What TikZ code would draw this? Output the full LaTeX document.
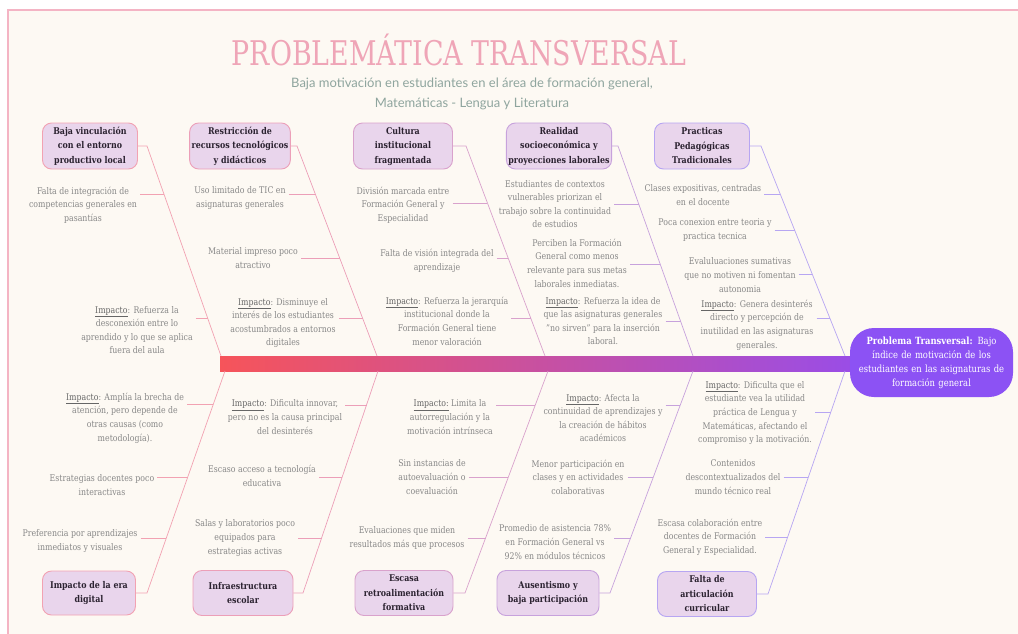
\documentclass[tikz,border=0pt]{standalone}
\usepackage{fontspec}
\setmainfont{DejaVu Serif}[FakeStretch=0.85]
\newfontfamily\titlefont{DejaVu Serif}[FakeStretch=0.79]
\newfontfamily\subfont{Lato}
\usetikzlibrary{calc}
\definecolor{cream}{HTML}{FDF9F3}
\definecolor{framepink}{HTML}{F4B4C4}
\definecolor{titlepink}{HTML}{EFA5B7}
\definecolor{subgray}{HTML}{8FA59E}
\definecolor{catfill}{HTML}{E9D5EC}
\definecolor{cattext}{HTML}{2B2230}
\definecolor{leafgray}{HTML}{878787}
\definecolor{impgray}{HTML}{666666}
\definecolor{c1}{HTML}{F2A2B2}
\definecolor{c2}{HTML}{EC9FB8}
\definecolor{c3}{HTML}{D9A2CC}
\definecolor{c4}{HTML}{C7A2DC}
\definecolor{c5}{HTML}{B7A6F2}
\definecolor{spineL}{HTML}{F6545A}
\definecolor{spineR}{HTML}{9A4DE6}
\definecolor{headfill}{HTML}{8C52F4}
\newcommand\leaffont{\fontsize{9.2}{13.6}\selectfont}
\newcommand\catfont{\fontsize{9.3}{14.5}\selectfont\bfseries}
\newcommand\headfont{\fontsize{9.9}{14}\selectfont}
\newcommand\impk{\textcolor{impgray}{\underline{Impacto}}}
\begin{document}
\begin{tikzpicture}[x=1pt,y=-1pt,
  leaf/.style={font=\leaffont, text=leafgray, align=center, inner xsep=3pt, inner ysep=1pt},
  catbox/.style={draw=#1, fill=catfill, rounded corners=9pt, line width=0.9pt, font=\catfont, text=cattext, align=center, inner sep=2pt, minimum height=46pt},
  bone/.style={draw=#1, line width=0.7pt},
  twig/.style={draw=#1, line width=0.7pt}]
\useasboundingbox (0,0) rectangle (1018,633);
\fill[white] (0,0) rectangle (1018,633);
\filldraw[fill=cream, draw=framepink, line width=1.6pt] (8,10) rectangle (1040,660);

% title
\node[font=\titlefont\fontsize{34}{34}\selectfont, text=titlepink, inner sep=0] (title) at (459,50) {PROBLEMÁTICA TRANSVERSAL};
\node[font=\subfont\fontsize{13}{20}\selectfont, text=subgray, align=center, inner sep=0] (sub) at (472,94) {Baja motivación en estudiantes en el área de formación general,\\Matemáticas - Lengua y Literatura};

% spine and head
\node[minimum width=632pt, minimum height=15pt, inner sep=0, left color=spineL, right color=spineR, draw=none] (spine) at (536,363.5) {};
\node[fill=headfill, rounded corners=24pt, minimum width=163pt, minimum height=69pt, text width=158pt, align=center, text=white, font=\headfont, inner sep=2pt] (head) at (931.5,362.5) {\textbf{Problema Transversal:} Bajo\\índice de motivación de los\\estudiantes en las asignaturas de\\formación general};

% ---------- top categories ----------
\node[catbox=c1, minimum width=95pt] (T1) at (90,146) {Baja vinculación\\con el entorno\\productivo local};
\node[catbox=c2, minimum width=96pt] (T2) at (240,146) {Restricción de\\recursos tecnológicos\\y didácticos};
\node[catbox=c3, minimum width=99pt] (T3) at (403,146) {Cultura\\institucional\\fragmentada};
\node[catbox=c4, minimum width=98pt] (T4) at (559,146) {Realidad\\socioeconómica y\\proyecciones laborales};
\node[catbox=c5, minimum width=95pt] (T5) at (702,146) {Practicas\\Pedagógicas\\Tradicionales};

\coordinate (e1) at (147,146); \coordinate (s1) at (221,356);
\coordinate (e2) at (297,146); \coordinate (s2) at (377,356);
\coordinate (e3) at (466,146); \coordinate (s3) at (545,356);
\coordinate (e4) at (618,146); \coordinate (s4) at (693,356);
\coordinate (e5) at (761,146); \coordinate (s5) at (845,356);
\draw[bone=c1] (T1.east) -- (e1) -- (s1);
\draw[bone=c2] (T2.east) -- (e2) -- (s2);
\draw[bone=c3] (T3.east) -- (e3) -- (s3);
\draw[bone=c4] (T4.east) -- (e4) -- (s4);
\draw[bone=c5] (T5.east) -- (e5) -- (s5);

% column 1 top
\node[leaf] (t1a) at (83,205) {Falta de integración de\\competencias generales en\\pasantías};
\node[leaf] (t1b) at (137,330) {\impk: Refuerza la\\desconexión entre lo\\aprendido y lo que se aplica\\fuera del aula};
\coordinate (k1a) at ($(e1)!0.2286!(s1)$);
\coordinate (k1b) at ($(e1)!0.819!(s1)$);
\draw[twig=c1] (t1a.east |- k1a) -- (k1a);
\draw[twig=c1] (t1b.east |- k1b) -- (k1b);

% column 2 top
\node[leaf] (t2a) at (240,198) {Uso limitado de TIC en\\asignaturas generales};
\node[leaf] (t2b) at (253,258) {Material impreso poco\\atractivo};
\node[leaf] (t2c) at (283,323) {\impk: Disminuye el\\interés de los estudiantes\\acostumbrados a entornos\\digitales};
\coordinate (k2a) at ($(e2)!0.2286!(s2)$);
\coordinate (k2b) at ($(e2)!0.5333!(s2)$);
\coordinate (k2c) at ($(e2)!0.819!(s2)$);
\draw[twig=c2] (t2a.east |- k2a) -- (k2a);
\draw[twig=c2] (t2b.east |- k2b) -- (k2b);
\draw[twig=c2] (t2c.east |- k2c) -- (k2c);

% column 3 top
\node[leaf] (t3a) at (403,205) {División marcada entre\\Formación General y\\Especialidad};
\node[leaf] (t3b) at (437,261) {Falta de visión integrada del\\aprendizaje};
\node[leaf] (t3c) at (447,321) {\impk: Refuerza la jerarquía\\institucional donde la\\Formación General tiene\\menor valoración};
\coordinate (k3a) at ($(e3)!0.2714!(s3)$);
\coordinate (k3b) at ($(e3)!0.5333!(s3)$);
\coordinate (k3c) at ($(e3)!0.819!(s3)$);
\draw[twig=c3] (t3a.east |- k3a) -- (k3a);
\draw[twig=c3] (t3b.east |- k3b) -- (k3b);
\draw[twig=c3] (t3c.east |- k3c) -- (k3c);

% column 4 top
\node[leaf] (t4a) at (555,204) {Estudiantes de contextos\\vulnerables priorizan el\\trabajo sobre la continuidad\\de estudios};
\node[leaf] (t4b) at (577,263) {Perciben la Formación\\General como menos\\relevante para sus metas\\laborales inmediatas.};
\node[leaf] (t4c) at (603,321) {\impk: Refuerza la idea de\\que las asignaturas generales\\"no sirven" para la inserción\\laboral.};
\coordinate (k4a) at ($(e4)!0.2762!(s4)$);
\coordinate (k4b) at ($(e4)!0.5619!(s4)$);
\coordinate (k4c) at ($(e4)!0.8333!(s4)$);
\draw[twig=c4] (t4a.east |- k4a) -- (k4a);
\draw[twig=c4] (t4b.east |- k4b) -- (k4b);
\draw[twig=c4] (t4c.east |- k4c) -- (k4c);

% column 5 top
\node[leaf] (t5a) at (703,195) {Clases expositivas, centradas\\en el docente};
\node[leaf] (t5b) at (715,230) {Poca conexion entre teoria y\\practica tecnica};
\node[leaf] (t5c) at (740,275) {Evaluluaciones sumativas\\que no motiven ni fomentan\\autonomia};
\node[leaf] (t5d) at (757,325) {\impk: Genera desinterés\\directo y percepción de\\inutilidad en las asignaturas\\generales.};
\coordinate (k5a) at ($(e5)!0.2286!(s5)$);
\coordinate (k5b) at ($(e5)!0.4!(s5)$);
\coordinate (k5c) at ($(e5)!0.6095!(s5)$);
\coordinate (k5d) at ($(e5)!0.819!(s5)$);
\draw[twig=c5] (t5a.east |- k5a) -- (k5a);
\draw[twig=c5] (t5b.east |- k5b) -- (k5b);
\draw[twig=c5] (t5c.east |- k5c) -- (k5c);
\draw[twig=c5] (t5d.east |- k5d) -- (k5d);

% ---------- bottom categories ----------
\node[catbox=c1, minimum width=93pt, minimum height=44pt] (B1) at (89,593) {Impacto de la era\\digital};
\node[catbox=c2, minimum width=100pt, minimum height=45pt] (B2) at (243,593) {Infraestructura\\escolar};
\node[catbox=c3, minimum width=98pt, minimum height=45pt] (B3) at (404,593) {Escasa\\retroalimentación\\formativa};
\node[catbox=c4, minimum width=102pt, minimum height=45pt] (B4) at (548,593) {Ausentismo y\\baja participación};
\node[catbox=c5, minimum width=99pt, minimum height=45pt] (B5) at (707,594) {Falta de\\articulación\\curricular};

\coordinate (f1) at (147,593); \coordinate (r1) at (225,371);
\coordinate (f2) at (303,593); \coordinate (r2) at (378,371);
\coordinate (f3) at (465,593); \coordinate (r3) at (548,371);
\coordinate (f4) at (610,593); \coordinate (r4) at (693,371);
\coordinate (f5) at (768,594); \coordinate (r5) at (845,371);
\draw[bone=c1] (B1.east) -- (f1) -- (r1);
\draw[bone=c2] (B2.east) -- (f2) -- (r2);
\draw[bone=c3] (B3.east) -- (f3) -- (r3);
\draw[bone=c4] (B4.east) -- (f4) -- (r4);
\draw[bone=c5] (B5.east) -- (f5) -- (r5);

% column 1 bottom
\node[leaf] (b1a) at (125,418) {\impk: Amplía la brecha de\\atención, pero depende de\\otras causas (como\\metodología).};
\node[leaf] (b1b) at (102,485) {Estrategias docentes poco\\interactivas};
\node[leaf] (b1c) at (80,541) {Preferencia por aprendizajes\\inmediatos y visuales};
\coordinate (m1a) at ($(f1)!0.8514!(r1)$);
\coordinate (m1b) at ($(f1)!0.5225!(r1)$);
\coordinate (m1c) at ($(f1)!0.2477!(r1)$);
\draw[twig=c1] (b1a.east |- m1a) -- (m1a);
\draw[twig=c1] (b1b.east |- m1b) -- (m1b);
\draw[twig=c1] (b1c.east |- m1c) -- (m1c);

% column 2 bottom
\node[leaf] (b2a) at (285,417) {\impk: Dificulta innovar,\\pero no es la causa principal\\del desinterés};
\node[leaf] (b2b) at (262,476) {Escaso acceso a tecnología\\educativa};
\node[leaf] (b2c) at (245,538) {Salas y laboratorios poco\\equipados para\\estrategias activas};
\coordinate (m2a) at ($(f2)!0.8468!(r2)$);
\coordinate (m2b) at ($(f2)!0.5225!(r2)$);
\coordinate (m2c) at ($(f2)!0.2477!(r2)$);
\draw[twig=c2] (b2a.east |- m2a) -- (m2a);
\draw[twig=c2] (b2b.east |- m2b) -- (m2b);
\draw[twig=c2] (b2c.east |- m2c) -- (m2c);

% column 3 bottom
\node[leaf] (b3a) at (450,417) {\textcolor{impgray}{\underline{Impacto:}} Limita la\\autorregulación y la\\motivación intrínseca};
\node[leaf] (b3b) at (432,477) {Sin instancias de\\autoevaluación o\\coevaluación};
\node[leaf] (b3c) at (407,538) {Evaluaciones que miden\\resultados más que procesos};
\coordinate (m3a) at ($(f3)!0.8468!(r3)$);
\coordinate (m3b) at ($(f3)!0.5225!(r3)$);
\coordinate (m3c) at ($(f3)!0.2477!(r3)$);
\draw[twig=c3] (b3a.east |- m3a) -- (m3a);
\draw[twig=c3] (b3b.east |- m3b) -- (m3b);
\draw[twig=c3] (b3c.east |- m3c) -- (m3c);

% column 4 bottom
\node[leaf] (b4a) at (603,418) {\impk: Afecta la\\continuidad de aprendizajes y\\la creación de hábitos\\académicos};
\node[leaf] (b4b) at (578,477) {Menor participación en\\clases y en actividades\\colaborativas};
\node[leaf] (b4c) at (555,542) {Promedio de asistencia 78\%\\en Formación General vs\\92\% en módulos técnicos};
\coordinate (m4a) at ($(f4)!0.8468!(r4)$);
\coordinate (m4b) at ($(f4)!0.5225!(r4)$);
\coordinate (m4c) at ($(f4)!0.2477!(r4)$);
\draw[twig=c4] (b4a.east |- m4a) -- (m4a);
\draw[twig=c4] (b4b.east |- m4b) -- (m4b);
\draw[twig=c4] (b4c.east |- m4c) -- (m4c);

% column 5 bottom
\node[leaf] (b5a) at (755,413) {\impk: Dificulta que el\\estudiante vea la utilidad\\práctica de Lengua y\\Matemáticas, afectando el\\compromiso y la motivación.};
\node[leaf] (b5b) at (733,477) {Contenidos\\descontextualizados del\\mundo técnico real};
\node[leaf] (b5c) at (710,537) {Escasa colaboración entre\\docentes de Formación\\General y Especialidad.};
\coordinate (m5a) at ($(f5)!0.8153!(r5)$);
\coordinate (m5b) at ($(f5)!0.5225!(r5)$);
\coordinate (m5c) at ($(f5)!0.2523!(r5)$);
\draw[twig=c5] (b5a.east |- m5a) -- (m5a);
\draw[twig=c5] (b5b.east |- m5b) -- (m5b);
\draw[twig=c5] (b5c.east |- m5c) -- (m5c);
\end{tikzpicture}
\end{document}
